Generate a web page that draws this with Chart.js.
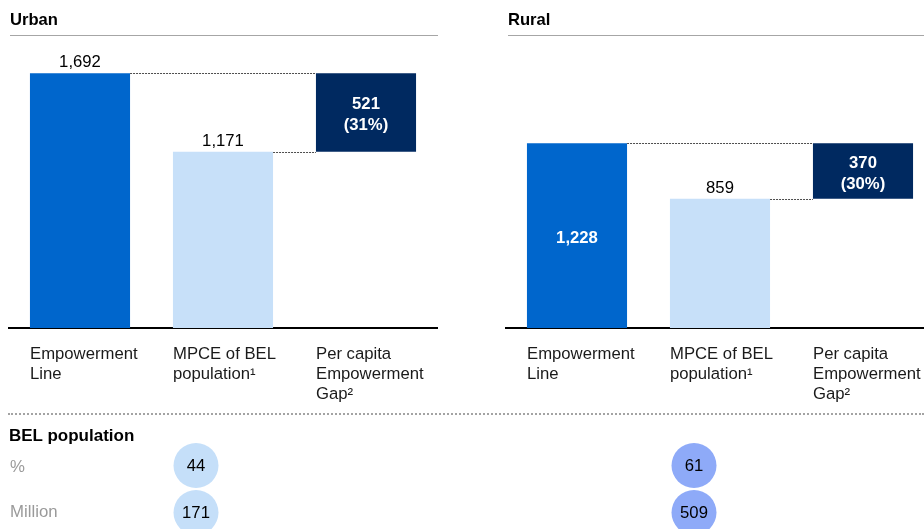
<!DOCTYPE html>
<html>
<head>
<meta charset="utf-8">
<script src="https://cdn.jsdelivr.net/npm/chart.js@4.4.1/dist/chart.umd.min.js"></script>
<style>
  html, body { margin: 0; padding: 0; }
  body {
    width: 924px; height: 529px; overflow: hidden; position: relative; background: #fff;
    font-family: 'Liberation Sans', Arial, sans-serif; color: #000;
  }
  .abs { position: absolute; }
  .title { font-weight: bold; font-size: 16.6px; line-height: 18px; }
  .rule { height: 1px; background: #a6a6a6; }
  .sep { height: 0; border-top: 2px dotted #a3a3a3; }
  .gray { color: #9a9a9a; font-size: 16.8px; line-height: 18px; }
</style>
</head>
<body>
<div class="abs" style="left:0;top:0"><canvas id="urbanChart" width="448" height="410"></canvas></div>
<div class="abs" style="left:497px;top:0"><canvas id="ruralChart" width="448" height="410"></canvas></div>
<div class="abs" style="left:-53px;top:441.5px"><canvas id="belChart" width="996" height="94"></canvas></div>

<div class="abs title" style="left:10px;top:11px">Urban</div>
<div class="abs rule" style="left:10px;top:35px;width:428px"></div>
<div class="abs title" style="left:508px;top:11px">Rural</div>
<div class="abs rule" style="left:508px;top:35px;width:416px"></div>

<div class="abs sep" style="left:8px;top:413px;width:916px"></div>
<div class="abs title" style="left:9px;top:427px;font-size:17px">BEL population</div>
<div class="abs gray" style="left:10px;top:458px">%</div>
<div class="abs gray" style="left:10px;top:503px">Million</div>

<script>
// categories shared by both panels
const CATEGORIES = [
  ['Empowerment', 'Line'],
  ['MPCE of BEL', 'population¹'],
  ['Per capita', 'Empowerment', 'Gap²']
];

// Empowerment Line, MPCE of BEL population, Per capita gap
const URBAN_VALUES = [1692, 1171, 521];
const URBAN_GAP_PCT = 31;
const RURAL_VALUES = [1228, 859, 370];
const RURAL_GAP_PCT = 30;

// BEL population circles
const BEL_GROUPS = ['Urban', 'Rural'];
const BEL_ROWS = ['%', 'Million'];
const BEL_PCT = [44, 61];
const BEL_MILLION = [171, 509];

const BAR_COLORS = ['#0066cc', '#c7e0f9', '#002960'];
const CIRCLE_COLORS = ['#c5dff9', '#8eaaf8'];
const FONT = "'Liberation Sans', Arial, sans-serif";
const SIZE = 16.7;

Chart.defaults.font.family = FONT;
Chart.defaults.font.size = SIZE;
Chart.defaults.color = '#000';

const fmt = v => v.toLocaleString('en-US');

// dotted connectors + value labels on the waterfall
const waterfallDecor = {
  id: 'waterfallDecor',
  afterDatasetsDraw(chart, args, opts) {
    const { ctx } = chart;
    const p = chart.getDatasetMeta(0).data.map(b => b.getProps(['x', 'y', 'base', 'width'], true));
    const top = b => Math.min(b.y, b.base);
    const bottom = b => Math.max(b.y, b.base);

    ctx.save();
    ctx.strokeStyle = '#4d4d4d';
    ctx.lineWidth = 1;
    ctx.setLineDash([2, 1]);
    ctx.beginPath();
    let y = Math.round(top(p[0])) + 0.5;
    ctx.moveTo(p[0].x + p[0].width / 2, y);
    ctx.lineTo(p[2].x - p[2].width / 2, y);
    y = Math.round(top(p[1])) + 0.5;
    ctx.moveTo(p[1].x + p[1].width / 2, y);
    ctx.lineTo(p[2].x - p[2].width / 2, y);
    ctx.stroke();
    ctx.setLineDash([]);

    ctx.textAlign = 'center';
    p.forEach((b, i) => {
      const mid = (top(b) + bottom(b)) / 2;
      if (i === 2) {
        ctx.fillStyle = '#fff';
        ctx.font = `bold ${SIZE}px ${FONT}`;
        ctx.textBaseline = 'middle';
        ctx.fillText(fmt(opts.values[2]), b.x, mid - 8);
        ctx.fillText('(' + opts.pct + '%)', b.x, mid + 13);
      } else if (opts.inside[i]) {
        ctx.fillStyle = '#fff';
        ctx.font = `bold ${SIZE}px ${FONT}`;
        ctx.textBaseline = 'middle';
        ctx.fillText(fmt(opts.values[i]), b.x, mid + 3);
      } else {
        ctx.fillStyle = '#000';
        ctx.font = `${SIZE}px ${FONT}`;
        ctx.textBaseline = 'alphabetic';
        ctx.fillText(fmt(opts.values[i]), b.x, top(b) - 6);
      }
    });
    ctx.restore();
  }
};

function makePanel(id, values, pct, inside) {
  new Chart(document.getElementById(id), {
    type: 'bar',
    data: {
      labels: CATEGORIES,
      datasets: [{
        data: [[0, values[0]], [0, values[1]], [values[0] - values[2], values[0]]],
        backgroundColor: BAR_COLORS,
        borderWidth: 0,
        barPercentage: 0.7,
        categoryPercentage: 1.0
      }]
    },
    options: {
      responsive: false,
      animation: false,
      layout: { autoPadding: false, padding: { left: 8.5, right: 10.5, top: 27, bottom: 0 } },
      plugins: {
        legend: { display: false },
        tooltip: { enabled: false },
        waterfallDecor: { values, pct, inside }
      },
      scales: {
        x: {
          grid: { display: false, drawTicks: false },
          border: { display: true, color: '#000', width: 2 },
          ticks: {
            align: 'start',
            labelOffset: -50,
            padding: 16,
            color: '#1a1a1a',
            maxRotation: 0,
            autoSkip: false,
            font: { size: SIZE, lineHeight: '20px' }
          },
          afterFit(scale) {
            scale.height = 82;
            scale.paddingLeft = 0;
            scale.paddingRight = 0;
          }
        },
        y: { display: false, min: 0, max: 2000 }
      }
    },
    plugins: [waterfallDecor]
  });
}

makePanel('urbanChart', URBAN_VALUES, URBAN_GAP_PCT, [false, false, true]);
makePanel('ruralChart', RURAL_VALUES, RURAL_GAP_PCT, [true, false, true]);

// numbers inside the circles
const circleLabels = {
  id: 'circleLabels',
  afterDatasetsDraw(chart, args, opts) {
    const { ctx } = chart;
    ctx.save();
    ctx.fillStyle = '#000';
    ctx.font = `${SIZE}px ${FONT}`;
    ctx.textAlign = 'center';
    ctx.textBaseline = 'middle';
    chart.data.datasets.forEach((ds, di) => {
      chart.getDatasetMeta(di).data.forEach((pt, i) => {
        ctx.fillText(String(opts.values[di][i]), pt.x, pt.y + 1);
      });
    });
    ctx.restore();
  }
};

new Chart(document.getElementById('belChart'), {
  type: 'scatter',
  data: {
    datasets: [BEL_PCT, BEL_MILLION].map((row, r) => ({
      data: row.map((v, i) => ({ x: BEL_GROUPS[i], y: BEL_ROWS[r] })),
      backgroundColor: CIRCLE_COLORS,
      borderWidth: 0,
      pointRadius: 22.5,
      pointHoverRadius: 22.5
    }))
  },
  options: {
    responsive: false,
    animation: false,
    layout: { autoPadding: false, padding: 0 },
    plugins: {
      legend: { display: false },
      tooltip: { enabled: false },
      circleLabels: { values: [BEL_PCT, BEL_MILLION] }
    },
    scales: {
      x: { type: 'category', labels: BEL_GROUPS, offset: true, display: false },
      y: { type: 'category', labels: BEL_ROWS, offset: true, display: false }
    }
  },
  plugins: [circleLabels]
});
</script>
</body>
</html>
